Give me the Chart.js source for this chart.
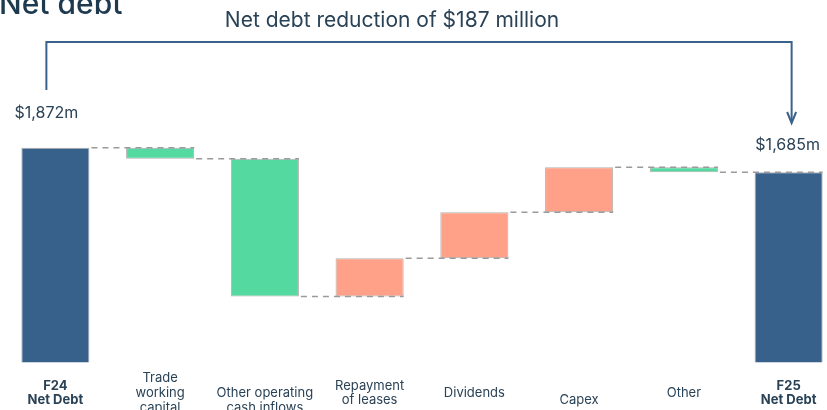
<!DOCTYPE html>
<html>
<head>
<meta charset="utf-8">
<script src="https://cdn.jsdelivr.net/npm/chart.js@4"></script>
<style>
  html, body { margin: 0; padding: 0; overflow: hidden; background: #fff; }
  #wrap { position: absolute; left: 0; top: 0; width: 841px; height: 431px; }
</style>
</head>
<body>
<div id="wrap"><canvas id="debt-chart" width="841" height="431"></canvas></div>
<script>
// values in $ million
const categories = [
  ['F24', 'Net Debt'],
  ['Trade', 'working', 'capital'],
  ['', 'Other operating', 'cash inflows'],
  ['Repayment', 'of leases'],
  ['Dividends'],
  ['', 'Capex'],
  ['Other'],
  ['F25', 'Net Debt']
]
const openingDebt = 1872
const movements = [-84, -1055, 293, 352, 345, -38]
const closingDebt = 1685
const totalLabels = ['$1,872m', '$1,685m']
const bracketText = 'Net debt reduction of $187 million'

const navy = '#37618a'
const green = '#54d9a0'
const salmon = '#ffa188'
const textColor = '#2a4256'

// build floating bars
let bars = [[0, openingDebt]]
let colors = [navy]
let level = openingDebt
movements.forEach(function (m) {
  bars.push([level, level + m])
  colors.push(m < 0 ? green : salmon)
  level += m
})
bars.push([0, closingDebt])
colors.push(navy)

const overlay = {
  id: 'overlay',
  afterDatasetsDraw(chart) {
    const ctx = chart.ctx
    const x = chart.scales.x
    const y = chart.scales.y
    const meta = chart.getDatasetMeta(0)
    ctx.save()

    // dashed connectors
    ctx.strokeStyle = '#9a9a9a'
    ctx.lineWidth = 1.5
    ctx.setLineDash([6, 5])
    for (let i = 0; i < bars.length - 1; i++) {
      const b = meta.data[i]
      const n = meta.data[i + 1]
      const lv = y.getPixelForValue(bars[i][1])
      ctx.beginPath()
      ctx.moveTo(b.x + b.width / 2 + 2, lv)
      ctx.lineTo(n.x + n.width / 2, lv)
      ctx.stroke()
    }
    ctx.setLineDash([])

    // bracket
    const xl = x.getPixelForValue(0) - 9
    const xr = x.getPixelForValue(bars.length - 1) + 3
    const yTop = 42
    ctx.strokeStyle = '#3b628a'
    ctx.lineWidth = 2
    ctx.beginPath()
    ctx.moveTo(xl, 90)
    ctx.lineTo(xl, yTop)
    ctx.lineTo(xr, yTop)
    ctx.lineTo(xr, 122)
    ctx.stroke()
    ctx.beginPath()
    ctx.moveTo(xr - 4.5, 112)
    ctx.lineTo(xr, 123)
    ctx.lineTo(xr + 4.5, 112)
    ctx.stroke()

    // texts
    ctx.fillStyle = '#1d3a4f'
    ctx.font = '500 30px Inter'
    ctx.textAlign = 'left'
    ctx.textBaseline = 'alphabetic'
    ctx.fillText('Net debt', -1, 14)

    ctx.fillStyle = textColor
    ctx.font = '21px Inter'
    ctx.textAlign = 'center'
    ctx.fillText(bracketText, 392, 27)

    ctx.font = '16px Inter'
    ctx.textBaseline = 'middle'
    ctx.fillText(totalLabels[0], xl, y.getPixelForValue(openingDebt) - 35)
    ctx.fillText(totalLabels[1], xr - 4, y.getPixelForValue(closingDebt) - 27)
    ctx.restore()
  }
}

let ctx = document.getElementById('debt-chart').getContext('2d')
let chart = new Chart(ctx, {
  type: 'bar',
  data: {
    labels: categories,
    datasets: [{
      data: bars,
      backgroundColor: colors,
      borderColor: 'rgba(100, 100, 100, 0.5)',
      borderWidth: 1,
      borderSkipped: false,
      barPercentage: 0.65,
      categoryPercentage: 1,
      clip: 0
    }]
  },
  options: {
    responsive: false,
    animation: false,
    layout: { padding: { left: 3, top: 40, right: 0, bottom: 0 } },
    plugins: { legend: { display: false }, tooltip: { enabled: false } },
    scales: {
      x: {
        grid: { display: false },
        border: { display: false },
        ticks: {
          padding: 8,
          crossAlign: 'center',
          maxRotation: 0,
          autoSkip: false,
          color: textColor,
          font: function (c) {
            const edge = c.index === 0 || c.index === categories.length - 1
            return { family: 'Inter', size: 13, lineHeight: 1.15, weight: edge ? 'bold' : 'normal' }
          }
        }
      },
      y: { display: false, min: 231, max: 2697 }
    }
  },
  plugins: [overlay]
})
</script>
</body>
</html>
